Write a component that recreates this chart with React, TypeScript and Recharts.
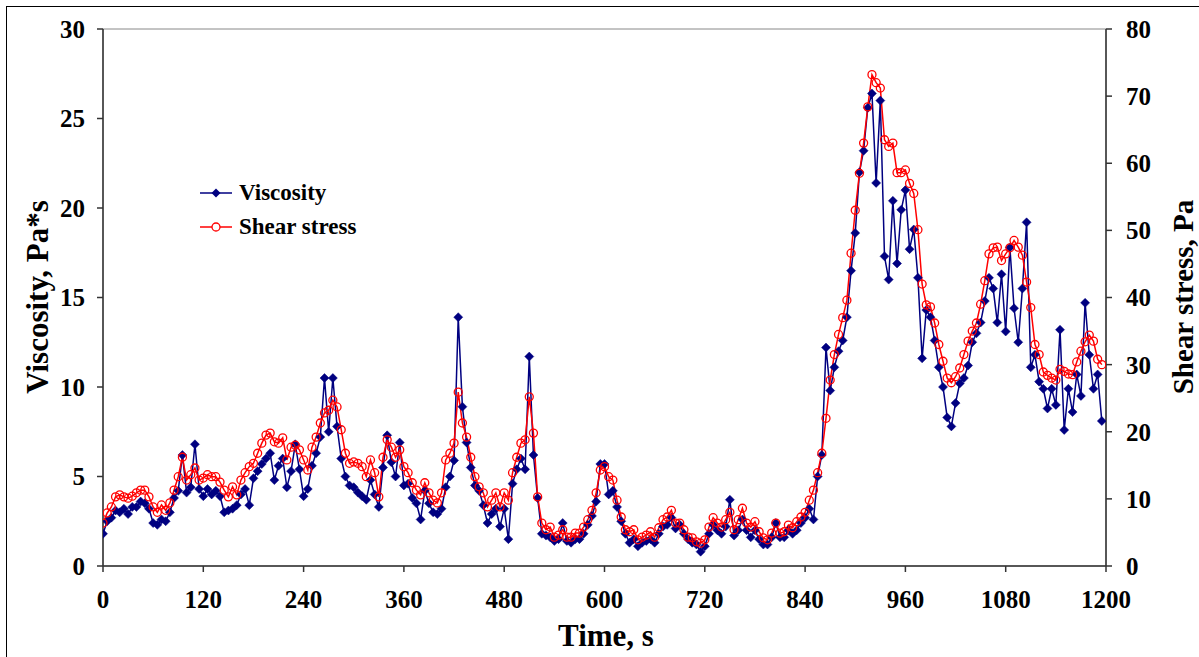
import React from 'react';
import { LineChart, Line, XAxis, YAxis, ReferenceArea } from 'recharts';

const FONT = "'Times New Roman', 'Liberation Serif', serif";
const NAVY = '#000080';
const RED = '#FF0000';

// sampled every 5 s, 0..1195
const STEP = 5;

const viscosity = [
  1.8, 2.5, 2.7, 3.1, 3.0, 3.2, 2.9, 3.3, 3.3, 3.6, 3.5, 3.2, 2.4, 2.3, 2.6, 2.5, 3.0, 3.8, 4.2, 6.2, 4.1, 4.4, 6.8, 4.3,
  3.9, 4.3, 4.0, 4.2, 3.9, 3.0, 3.1, 3.2, 3.4, 4.0, 4.3, 3.4, 4.9, 5.3, 5.7, 6.0, 6.3, 4.8, 5.6, 6.0, 4.4, 5.3, 6.8, 5.4,
  3.9, 4.3, 5.6, 6.3, 7.2, 10.5, 7.5, 10.5, 7.8, 6.0, 5.0, 4.5, 4.4, 4.1, 3.9, 3.7, 4.8, 4.0, 3.3, 5.5, 7.3, 5.8, 5.0, 6.9,
  4.5, 4.6, 3.8, 3.5, 2.6, 4.2, 3.5, 3.0, 2.9, 3.2, 4.4, 5.0, 5.9, 13.9, 8.9, 6.9, 5.5, 4.5, 4.2, 3.4, 2.4, 2.9, 3.2, 2.2,
  3.2, 1.5, 4.6, 5.4, 6.0, 5.4, 11.7, 6.2, 3.8, 1.8, 1.7, 1.6, 1.4, 1.5, 2.4, 1.4, 1.3, 1.5, 1.5, 1.8, 2.3, 2.8, 3.6, 5.7,
  5.7, 4.0, 4.2, 3.3, 2.5, 1.8, 1.3, 1.5, 1.1, 1.3, 1.4, 1.5, 1.3, 1.8, 2.2, 2.3, 2.7, 2.1, 2.3, 1.8, 1.5, 1.3, 1.2, 0.8,
  1.1, 1.8, 2.3, 2.0, 1.8, 2.2, 3.7, 1.7, 2.0, 2.6, 2.0, 1.6, 2.0, 1.5, 1.2, 1.2, 1.6, 2.4, 1.6, 1.6, 2.0, 1.8, 2.0, 2.4,
  2.7, 3.2, 2.6, 5.0, 6.2, 12.2, 9.8, 11.1, 12.0, 12.6, 13.9, 16.5, 18.6, 22.0, 23.2, 25.6, 26.4, 21.4, 26.0, 17.3, 16.0, 20.4, 16.9, 19.9,
  21.0, 17.7, 18.8, 16.1, 11.6, 14.3, 13.9, 12.6, 11.1, 10.0, 8.3, 7.8, 9.1, 10.2, 10.5, 11.2, 12.5, 13.0, 13.6, 14.8, 16.1, 15.5, 13.6, 16.3,
  13.1, 17.8, 14.4, 12.5, 15.5, 19.2, 11.1, 11.8, 10.3, 9.9, 8.8, 9.9, 9.0, 13.2, 7.6, 9.9, 8.6, 10.7, 9.5, 14.7, 11.8, 9.9, 10.7, 8.1,
];

const shearStress = [
  6.4, 7.9, 8.8, 10.3, 10.6, 10.3, 10.1, 10.4, 10.9, 11.3, 11.3, 10.3, 8.8, 8.0, 9.1, 8.3, 9.4, 11.3, 13.3, 16.2, 12.8, 13.6, 14.6, 12.8,
  13.1, 13.6, 13.3, 13.3, 12.5, 11.3, 10.3, 11.8, 10.6, 12.8, 13.9, 14.8, 15.3, 16.8, 18.3, 19.5, 19.8, 18.5, 18.3, 19.1, 15.8, 17.7, 18.0, 17.3,
  15.8, 14.3, 17.7, 19.2, 21.3, 22.8, 23.2, 24.7, 23.7, 20.3, 16.8, 15.3, 15.5, 15.3, 14.8, 13.3, 15.8, 13.9, 10.3, 16.2, 18.8, 17.7, 16.2, 17.3,
  14.8, 13.9, 12.4, 11.3, 10.6, 12.4, 10.9, 9.8, 9.4, 10.9, 15.8, 16.8, 18.3, 25.9, 21.3, 19.2, 16.2, 13.3, 11.8, 10.9, 8.8, 9.8, 10.9, 8.8,
  10.9, 9.8, 13.9, 16.2, 18.3, 18.8, 25.2, 19.8, 10.3, 6.4, 5.4, 5.8, 4.3, 4.6, 5.4, 4.3, 4.3, 4.9, 4.9, 5.8, 6.9, 8.3, 10.9, 14.3,
  14.8, 13.3, 12.8, 9.8, 7.3, 5.4, 5.1, 5.4, 3.9, 4.3, 4.6, 5.1, 4.3, 5.7, 6.9, 7.3, 8.3, 6.4, 6.4, 5.4, 4.3, 4.2, 3.6, 3.4,
  3.9, 5.8, 7.2, 6.4, 5.8, 6.9, 8.0, 5.4, 6.9, 8.6, 6.4, 5.8, 6.6, 5.1, 4.2, 3.9, 4.9, 6.4, 4.9, 5.1, 6.1, 5.7, 6.6, 7.3,
  8.0, 9.8, 11.3, 13.9, 16.8, 22.0, 27.7, 31.5, 34.5, 37.0, 39.6, 46.6, 53.0, 58.5, 63.0, 68.4, 73.2, 72.0, 71.2, 63.5, 62.5, 63.0, 58.6, 58.6,
  59.0, 57.0, 55.5, 50.1, 42.0, 38.9, 38.6, 36.2, 33.0, 30.5, 28.0, 27.3, 28.2, 29.5, 31.5, 33.5, 35.0, 36.2, 39.0, 42.5, 46.5, 47.4, 47.5, 45.5,
  46.5, 47.4, 48.5, 47.5, 46.3, 42.3, 38.5, 33.0, 31.5, 28.9, 28.4, 28.0, 27.7, 29.3, 29.0, 28.6, 28.5, 30.4, 32.0, 33.4, 34.4, 33.5, 30.8, 30.0,
];

const timeTicks = [0, 120, 240, 360, 480, 600, 720, 840, 960, 1080, 1200];
const viscosityTicks = [0, 5, 10, 15, 20, 25, 30];
const stressTicks = [0, 10, 20, 30, 40, 50, 60, 70, 80];

const data = viscosity.map((v, i) => ({ t: i * STEP, viscosity: v, stress: shearStress[i] }));

const diamondPath = (cx: number, cy: number, r: number) =>
  `M${cx},${cy - r}L${cx + r},${cy}L${cx},${cy + r}L${cx - r},${cy}Z`;

const DiamondDot = (props: any) => {
  const { cx, cy, index } = props;
  if (cx == null || cy == null) return <g key={`vd-${index}`} />;
  return <path key={`vd-${index}`} d={diamondPath(cx, cy, 4.5)} fill={NAVY} stroke={NAVY} strokeWidth={0.5} />;
};

const tickStyle = { fontFamily: FONT, fontWeight: 'bold', fontSize: 25, fill: '#000' } as const;

// legend sits inside the plot, so it is drawn as an overlay
function LegendBox() {
  const row = { display: 'flex', alignItems: 'center', height: 34 } as const;
  return (
    <div style={{ position: 'absolute', left: 198, top: 176, fontFamily: FONT, fontWeight: 'bold', fontSize: 23, color: '#000' }}>
      <div style={row}>
        <svg width={41} height={14}>
          <line x1={2} y1={7} x2={34} y2={7} stroke={NAVY} strokeWidth={1.5} />
          <path d={diamondPath(18, 7, 4.5)} fill={NAVY} />
        </svg>
        <span>Viscosity</span>
      </div>
      <div style={row}>
        <svg width={41} height={14}>
          <line x1={2} y1={7} x2={34} y2={7} stroke={RED} strokeWidth={1.5} />
          <circle cx={18} cy={7} r={4} fill="#fff" stroke={RED} strokeWidth={1.3} />
        </svg>
        <span>Shear stress</span>
      </div>
    </div>
  );
}

export default function App() {
  return (
    <div style={{ position: 'relative', width: 1199, height: 657, overflow: 'hidden', background: '#fff' }}>
      <style>{'body{margin:0}'}</style>
      <div style={{ position: 'absolute', left: 6, top: 6, width: 1210, height: 670, border: '1px solid #000' }} />
      <LineChart width={1199} height={657} data={data} margin={{ top: 29, right: 0, bottom: 0, left: 0 }}>
        <XAxis
          dataKey="t" type="number" domain={[0, 1200]} ticks={timeTicks} height={91}
          tick={tickStyle} tickSize={6} tickMargin={18} stroke="#333" strokeWidth={1.5}
          interval={0} allowDataOverflow
        />
        <YAxis
          yAxisId="left" domain={[0, 30]} ticks={viscosityTicks} width={103}
          tick={tickStyle} tickSize={6} tickMargin={12} stroke="#333" strokeWidth={1.5} interval={0}
        />
        <YAxis
          yAxisId="right" orientation="right" domain={[0, 80]} ticks={stressTicks} width={93}
          tick={{ ...tickStyle, textAnchor: 'start' }} tickSize={6} tickMargin={14} stroke="#333" strokeWidth={1.5} interval={0}
        />
        <ReferenceArea yAxisId="left" x1={0} x2={1200} y1={0} y2={30} fill="none" stroke="#888" strokeWidth={1} ifOverflow="visible" />
        <Line
          yAxisId="left" dataKey="viscosity" name="Viscosity" stroke={NAVY} strokeWidth={1.5}
          dot={DiamondDot} activeDot={false} isAnimationActive={false} type="linear"
        />
        <Line
          yAxisId="right" dataKey="stress" name="Shear stress" stroke={RED} strokeWidth={1.5}
          dot={{ r: 4, stroke: RED, strokeWidth: 1.3, fill: 'none' }} activeDot={false} isAnimationActive={false} type="linear"
        />
      </LineChart>
      <LegendBox />
      <div style={{
        position: 'absolute', left: 606, top: 636, transform: 'translate(-50%, -50%)',
        fontFamily: FONT, fontWeight: 'bold', fontSize: 31, whiteSpace: 'nowrap',
      }}>Time, s</div>
      <div style={{
        position: 'absolute', left: 38, top: 297, transform: 'translate(-50%, -50%) rotate(-90deg)',
        fontFamily: FONT, fontWeight: 'bold', fontSize: 31, whiteSpace: 'nowrap',
      }}>Viscosity, Pa*s</div>
      <div style={{
        position: 'absolute', left: 1183, top: 297, transform: 'translate(-50%, -50%) rotate(-90deg)',
        fontFamily: FONT, fontWeight: 'bold', fontSize: 29, whiteSpace: 'nowrap',
      }}>Shear stress, Pa</div>
    </div>
  );
}
